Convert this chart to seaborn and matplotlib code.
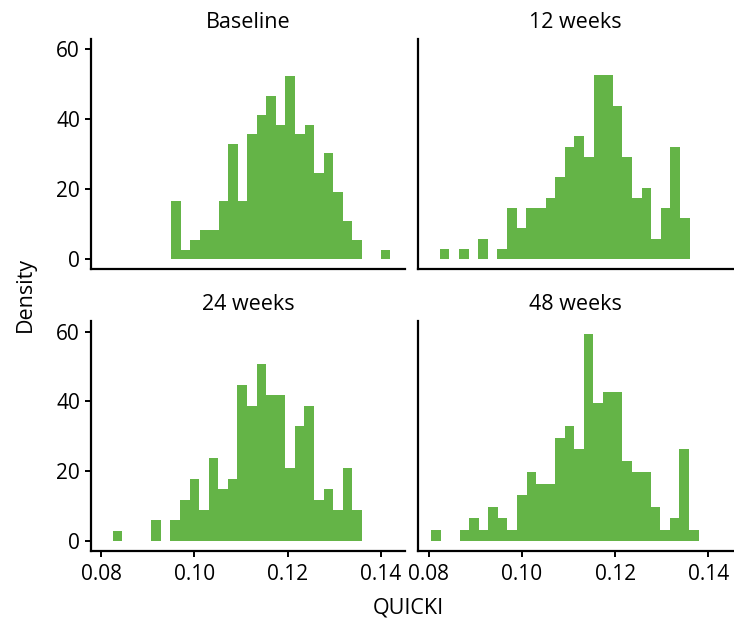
import numpy as np
import pandas as pd
import seaborn as sns
import matplotlib.pyplot as plt

# Visits (facet titles)
visits = ["Baseline", "12 weeks", "24 weeks", "48 weeks"]

# Bin counts (left to right)
counts_baseline = [6, 1, 2, 3, 3, 6, 12, 6, 13, 15, 17, 14, 19, 13, 14, 9, 11, 7, 4, 2, 0, 0, 1]
counts_12w = [1, 0, 1, 0, 2, 0, 1, 5, 3, 5, 5, 6, 8, 11, 12, 10, 18, 18, 15, 10, 6, 7, 2, 5, 11, 4]
counts_24w = [1, 0, 0, 0, 2, 0, 2, 4, 6, 3, 8, 5, 6, 15, 13, 17, 14, 14, 7, 11, 13, 4, 5, 3, 7, 3]
counts_48w = [1, 0, 0, 1, 2, 1, 3, 2, 1, 4, 6, 5, 5, 9, 10, 8, 18, 12, 13, 13, 7, 6, 6, 3, 1, 2, 8, 1]

# QUICKI range covered by the bins of each visit
range_baseline = (0.0950, 0.1420)
range_12w = (0.0824, 0.1360)
range_24w = (0.0825, 0.1359)
range_48w = (0.0805, 0.1379)

all_counts = [counts_baseline, counts_12w, counts_24w, counts_48w]
all_ranges = [range_baseline, range_12w, range_24w, range_48w]

rows = []
for visit, counts, (lo, hi) in zip(visits, all_counts, all_ranges):
    width = (hi - lo) / len(counts)
    for i, c in enumerate(counts):
        rows.append({"visit": visit, "QUICKI": lo + (i + 0.5) * width, "n": c})
df = pd.DataFrame(rows)

sns.set_theme(style="ticks")
plt.rcParams["font.family"] = ["Open Sans", "DejaVu Sans"]
plt.rcParams["text.color"] = "black"
plt.rcParams["axes.edgecolor"] = "black"
plt.rcParams["axes.labelcolor"] = "black"
plt.rcParams["axes.linewidth"] = 1.6
plt.rcParams["xtick.major.width"] = 1.4
plt.rcParams["ytick.major.width"] = 1.4
plt.rcParams["xtick.major.size"] = 4.5
plt.rcParams["ytick.major.size"] = 4.5

fig, axes = plt.subplots(2, 2, figsize=(7.34, 6.21), dpi=100, sharex=True, sharey=True)
fig.subplots_adjust(left=0.124, right=0.998, bottom=0.113, top=0.937, wspace=0.042, hspace=0.23)

green = "#64b447"
for ax, visit, counts, rng in zip(axes.flat, visits, all_counts, all_ranges):
    sub = df[df["visit"] == visit]
    sns.histplot(data=sub, x="QUICKI", weights="n", bins=len(counts), binrange=rng,
                 stat="density", color=green, alpha=1, linewidth=0, ax=ax)
    ax.set_title(visit, fontsize=15.5, color="black", pad=8)
    ax.set_xlabel("")
    ax.set_ylabel("")
    ax.tick_params(labelsize=15, colors="black")
    ax.tick_params(axis="x", pad=5)
    sns.despine(ax=ax)

ax0 = axes[0, 0]
ax0.set_xlim(0.0778, 0.1452)
ax0.set_ylim(-2.7, 62.9)
ax0.set_xticks([0.08, 0.10, 0.12, 0.14])
ax0.set_yticks([0, 20, 40, 60])

for ax in axes[0, :]:
    ax.tick_params(axis="x", length=0)
for ax in axes[:, 1]:
    ax.tick_params(axis="y", length=0)

fig.supylabel("Density", x=0.02, y=0.525, fontsize=15.5)
fig.supxlabel("QUICKI", x=0.556, y=0.004, fontsize=15.5)

fig.savefig("out.png", dpi=100)
